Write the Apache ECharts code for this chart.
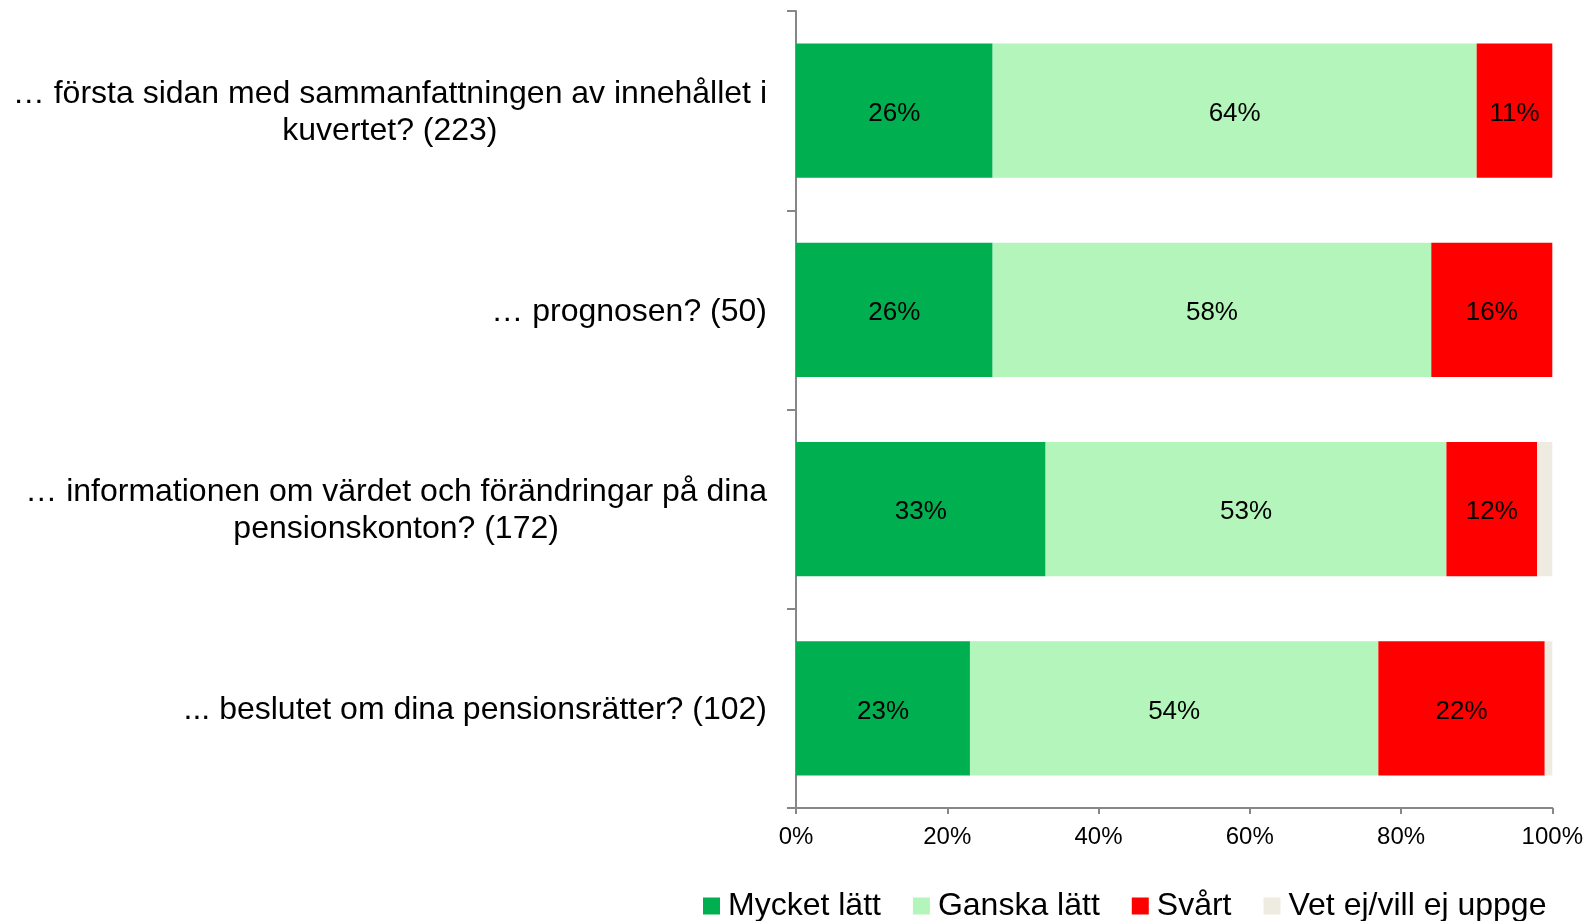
<!DOCTYPE html>
<html>
<head>
<meta charset="utf-8">
<script src="https://cdn.jsdelivr.net/npm/echarts@6/dist/echarts.min.js"></script>
<style>
html,body{margin:0;padding:0;background:#fff;}
#chart{width:1586px;height:921px;}
</style>
</head>
<body>
<div id="chart"></div>
<script>
const categories = [
  "… första sidan med sammanfattningen av innehållet i\nkuvertet? (223)",
  "… prognosen? (50)",
  "… informationen om värdet och förändringar på dina\npensionskonton? (172)",
  "... beslutet om dina pensionsrätter? (102)"
];
const seriesNames = ["Mycket lätt", "Ganska lätt", "Svårt", "Vet ej/vill ej uppge"];
const mycketLatt = [26, 26, 33, 23];
const ganskaLatt = [64, 58, 53, 54];
const svart = [11, 16, 12, 22];
const vetEj = [0, 0, 2, 1];
const xTicks = ["0%", "20%", "40%", "60%", "80%", "100%"];

const colors = ["#00B050", "#B3F5BA", "#FF0000", "#EEECE1"];
const dataSets = [mycketLatt, ganskaLatt, svart, vetEj];
const font = "Liberation Sans, Arial, sans-serif";

const chart = echarts.init(document.getElementById('chart'));
chart.setOption({
  animation: false,
  backgroundColor: '#ffffff',
  textStyle: { fontFamily: font, color: '#000' },
  grid: { left: 796, right: 30, top: 11, bottom: 113, containLabel: false },
  legend: {
    left: 698, top: 885,
    itemWidth: 17, itemHeight: 17, itemGap: 32,
    icon: 'rect',
    textStyle: { fontSize: 32, color: '#000', fontFamily: font, padding: [0, 0, 0, 3] },
    data: seriesNames
  },
  xAxis: {
    type: 'value', min: 0, max: 100, interval: 20,
    axisLine: { show: true, lineStyle: { color: '#878787', width: 2 } },
    axisTick: { show: true, length: 6, lineStyle: { color: '#878787', width: 2 } },
    splitLine: { show: false },
    axisLabel: {
      margin: 17, fontSize: 24, color: '#000', fontFamily: font,
      formatter: function (v) { return xTicks[Math.round(v / 20)]; }
    }
  },
  yAxis: {
    type: 'category', inverse: true, data: categories,
    axisLine: { show: true, lineStyle: { color: '#878787', width: 2 } },
    axisTick: { show: true, length: 9, alignWithLabel: false, lineStyle: { color: '#878787', width: 2 } },
    axisLabel: {
      margin: 29, fontSize: 32, color: '#000', fontFamily: font,
      align: 'right',
      padding: [4, 0, 0, 0],
      formatter: function (v) { return v.split('\n').map(function (l) { return '{c|' + l + '}'; }).join('\n'); },
      rich: { c: { align: 'center', fontSize: 32, lineHeight: 37, color: '#000', fontFamily: font } }
    }
  },
  series: dataSets.map(function (d, i) {
    return {
      name: seriesNames[i], type: 'bar', stack: 'total',
      barCategoryGap: '32.5%',
      itemStyle: { color: colors[i] },
      label: {
        show: i < 3, position: 'inside', fontSize: 26, color: '#000', fontFamily: font,
        offset: [0, 3],
        formatter: function (p) { return p.value > 0 ? Math.round(p.value) + '%' : ''; }
      },
      data: d
    };
  })
});
</script>
</body>
</html>
